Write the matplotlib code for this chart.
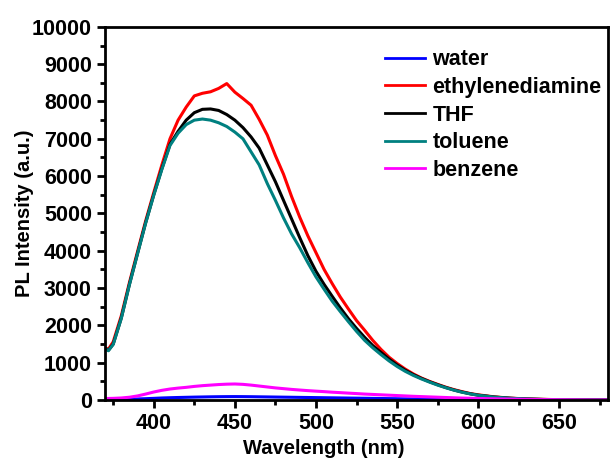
import numpy as np
import matplotlib
matplotlib.use("Agg")
import matplotlib.pyplot as plt
from matplotlib.ticker import MultipleLocator

plt.rcParams['font.family'] = ['Liberation Sans', 'DejaVu Sans']
plt.rcParams['font.weight'] = 'bold'

# PL spectra of the dots in different solvents
wavelength = [370, 372, 375, 380, 385, 390, 395, 400, 405, 410,
              415, 420, 425, 430, 435, 440, 445, 450, 455, 460,
              465, 470, 475, 480, 485, 490, 495, 500, 505, 510,
              515, 520, 525, 530, 535, 540, 545, 550, 555, 560,
              565, 570, 575, 580, 585, 590, 595, 600,
              610, 620, 630, 640, 650, 660, 670, 680]

water = [10, 10, 12, 15, 20, 28, 36, 45, 55, 62,
         68, 73, 78, 82, 86, 89, 91, 92, 91, 89,
         86, 83, 80, 77, 74, 71, 68, 65, 62, 59,
         56, 53, 50, 47, 44, 41, 38, 35, 32, 29,
         27, 25, 23, 21, 19, 17, 15, 14,
         11, 9, 7, 5, 4, 3, 1, 0]

ethylenediamine = [1400, 1360, 1560, 2260, 3150, 3980, 4800, 5560, 6300, 7000,
                   7500, 7850, 8150, 8220, 8260, 8350, 8480, 8250, 8080, 7900,
                   7520, 7100, 6550, 6050, 5450, 4900, 4400, 3950, 3500, 3120,
                   2760, 2440, 2130, 1870, 1600, 1360, 1150, 980, 830, 700,
                   590, 500, 420, 345, 280, 225, 175, 140,
                   85, 50, 30, 18, 10, 5, 2, 0]

thf = [1390, 1330, 1500, 2200, 3100, 3930, 4750, 5500, 6200, 6850,
       7200, 7500, 7700, 7790, 7800, 7760, 7650, 7500, 7300, 7050,
       6750, 6300, 5850, 5350, 4850, 4350, 3870, 3450, 3100, 2780,
       2470, 2180, 1920, 1680, 1460, 1280, 1100, 940, 800, 680,
       580, 490, 410, 335, 270, 215, 168, 130,
       80, 48, 28, 16, 9, 4, 2, 0]

toluene = [1380, 1320, 1490, 2190, 3090, 3920, 4740, 5490, 6180, 6820,
           7150, 7380, 7500, 7530, 7500, 7430, 7330, 7180, 7000, 6650,
           6300, 5800, 5350, 4880, 4450, 4080, 3680, 3300, 2970, 2650,
           2370, 2100, 1840, 1600, 1400, 1220, 1050, 900, 770, 660,
           565, 480, 400, 330, 265, 210, 165, 128,
           78, 46, 27, 15, 8, 4, 2, 0]

benzene = [40, 42, 45, 55, 75, 110, 160, 215, 260, 295,
           320, 340, 365, 385, 400, 415, 425, 430, 420, 400,
           375, 350, 325, 305, 285, 268, 252, 238, 225, 210,
           198, 185, 173, 160, 150, 140, 130, 120, 110, 100,
           92, 84, 76, 68, 60, 53, 47, 42,
           33, 25, 18, 12, 8, 5, 2, 0]

series = [
    ('water', water, '#0000FF'),
    ('ethylenediamine', ethylenediamine, '#FF0000'),
    ('THF', thf, '#000000'),
    ('toluene', toluene, '#008080'),
    ('benzene', benzene, '#FF00FF'),
]

fig = plt.figure(figsize=(6.11, 4.63), dpi=100)
ax = fig.add_axes([0.172, 0.136, 0.823, 0.806])

for name, y, color in series:
    ax.plot(wavelength, y, color=color, lw=2.2, label=name)

ax.set_xlim(370, 680)
ax.set_ylim(0, 10000)
ax.xaxis.set_major_locator(MultipleLocator(50))
ax.xaxis.set_minor_locator(MultipleLocator(25))
ax.yaxis.set_major_locator(MultipleLocator(1000))
ax.yaxis.set_minor_locator(MultipleLocator(500))

for s in ax.spines.values():
    s.set_linewidth(2)
ax.tick_params(which='major', direction='out', length=6, width=2, labelsize=15.5)
ax.tick_params(which='minor', direction='out', length=3.5, width=2)
ax.tick_params(top=False, right=False, which='both')

ax.set_xlabel('Wavelength (nm)', fontsize=14.5, fontweight='bold')
ax.set_ylabel('PL Intensity (a.u.)', fontsize=14.5, fontweight='bold')
ax.xaxis.set_label_coords(0.434, -0.105, transform=ax.transAxes)
ax.xaxis.label.set_va('top')
ax.yaxis.set_label_coords(-0.161, 0.5, transform=ax.transAxes)
ax.yaxis.label.set_va('center')

leg = ax.legend(loc='upper left', bbox_to_anchor=(0.557, 0.94), frameon=False,
                fontsize=15.5, handlelength=1.86, handletextpad=0.33,
                labelspacing=0.31, borderaxespad=0, borderpad=0)
for line in leg.get_lines():
    line.set_linewidth(2)

fig.savefig('out.png', dpi=100)
